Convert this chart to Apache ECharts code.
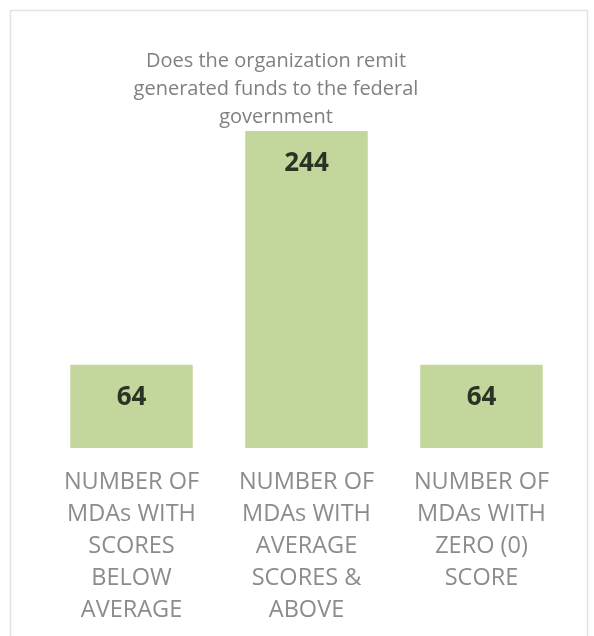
<!DOCTYPE html>
<html>
<head>
<meta charset="utf-8">
<style>
  html, body { margin: 0; padding: 0; background: #ffffff; }
  #chart { width: 594px; height: 636px; }
</style>
<script src="https://cdn.jsdelivr.net/npm/echarts@6/dist/echarts.min.js"></script>
</head>
<body>
<div id="chart"></div>
<script>
// Categories, shown on the x-axis as wrapped labels
const categories = [
  'NUMBER OF\nMDAs WITH\nSCORES\nBELOW\nAVERAGE',
  'NUMBER OF\nMDAs WITH\nAVERAGE\nSCORES &\nABOVE',
  'NUMBER OF\nMDAs WITH\nZERO (0)\nSCORE'
];
// Number of MDAs in each group
const counts = [64, 244, 64];

const titleText = 'Does the organization remit\ngenerated funds to the federal\ngovernment';

const chart = echarts.init(document.getElementById('chart'), null, { renderer: 'canvas' });

chart.setOption({
  animation: false,
  backgroundColor: '#ffffff',
  title: {
    text: titleText,
    left: 271,
    top: 42,
    textAlign: 'center',
    textStyle: {
      fontFamily: 'Open Sans',
      fontSize: 20,
      fontWeight: 'normal',
      color: '#808080',
      lineHeight: 28
    }
  },
  graphic: [{
    type: 'rect',
    shape: { x: 10.5, y: 10.5, width: 577, height: 640 },
    style: { fill: 'none', stroke: '#e3e3e3', lineWidth: 1.5 },
    silent: true,
    z: -1
  }],
  grid: { left: 44, right: 25, top: 131, bottom: 188, containLabel: false },
  xAxis: {
    type: 'category',
    data: categories,
    axisLine: { show: false },
    axisTick: { show: false },
    axisLabel: {
      interval: 0,
      margin: 18,
      fontFamily: 'Open Sans',
      fontSize: 23.5,
      color: '#8c8c8c',
      lineHeight: 32,
      align: 'center'
    }
  },
  yAxis: {
    type: 'value',
    min: 0,
    max: 244,
    show: false,
    splitLine: { show: false }
  },
  series: [{
    type: 'bar',
    data: counts,
    barCategoryGap: '30%',
    itemStyle: { color: '#c3d69b' },
    label: {
      show: true,
      position: 'insideTop',
      distance: 20,
      fontFamily: 'Open Sans',
      fontWeight: 'bold',
      fontSize: 26,
      color: '#2a3324'
    }
  }]
});
</script>
</body>
</html>
